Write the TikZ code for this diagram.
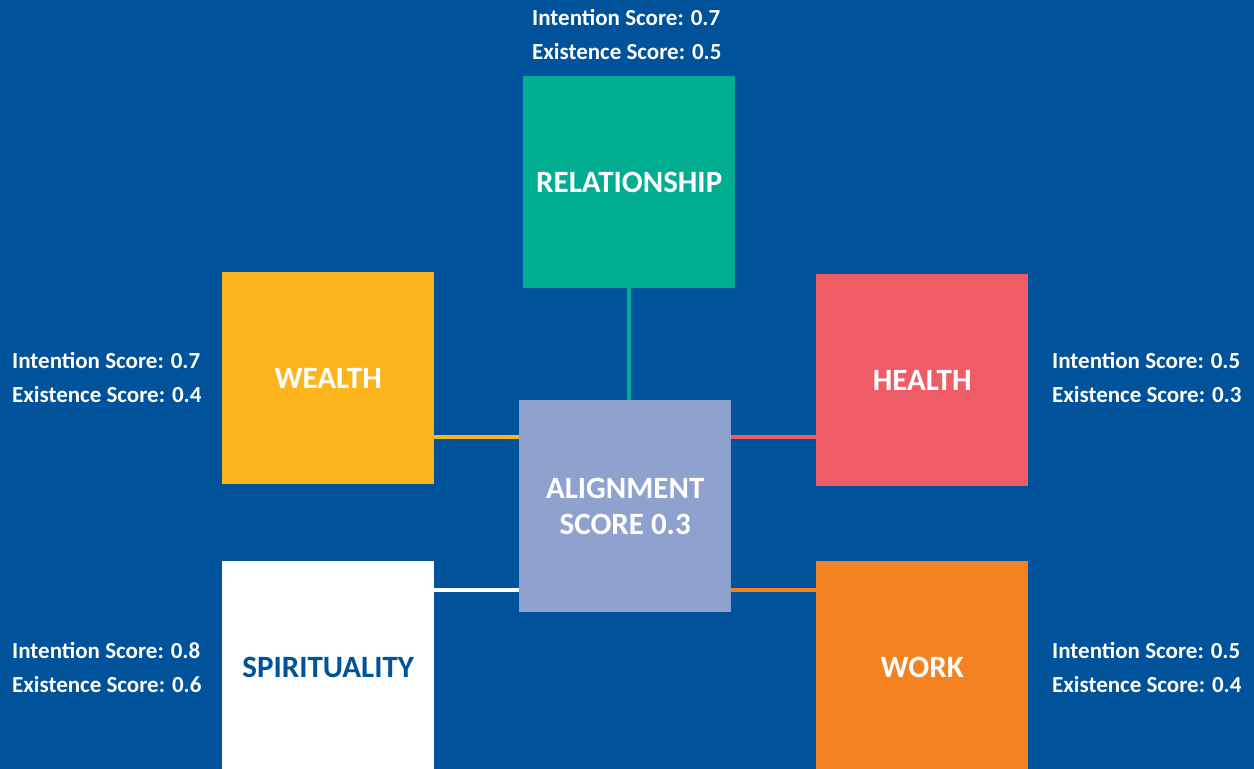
\documentclass[tikz,border=0pt]{standalone}
\usepackage{fontspec}
\setmainfont{Carlito}
\definecolor{bgblue}{RGB}{0,82,155}
\definecolor{teal1}{RGB}{0,173,145}
\definecolor{yell1}{RGB}{253,181,30}
\definecolor{red1}{RGB}{240,92,102}
\definecolor{orange1}{RGB}{245,130,32}
\definecolor{lav1}{RGB}{142,161,207}
\begin{document}
\begin{tikzpicture}[x=1pt,y=-1pt,
  box/.style={rectangle,inner sep=0pt,minimum width=212pt,minimum height=212pt,anchor=north west,
    font=\fontsize{31}{36}\selectfont\bfseries,text=white,align=center},
  score/.style={anchor=base west,inner sep=0pt,font=\fontsize{23}{27}\selectfont\bfseries,text=white},
  conn/.style={line width=3.5pt}]
\fill[bgblue] (0,0) rectangle (1254,769);
\useasboundingbox (0,0) rectangle (1254,769);
% boxes
\node[box,fill=teal1] (rel) at (523,76) {RELATIONSHIP};
\node[box,fill=yell1] (wealth) at (222,272) {WEALTH};
\node[box,fill=red1] (health) at (816,274) {HEALTH};
\node[box,fill=lav1] (align) at (519,400) {ALIGNMENT\\SCORE 0.3};
\node[box,fill=white,text=bgblue] (spirit) at (222,561) {SPIRITUALITY};
\node[box,fill=orange1] (work) at (816,561) {WORK};
% connectors
\draw[conn,teal1] (rel.south) -- (rel.south |- align.north);
\path ([yshift=-37pt]align.north west) coordinate (cwl);
\path ([yshift=-37pt]align.north east) coordinate (cwr);
\path ([yshift=-190pt]align.north west) coordinate (csl);
\path ([yshift=-190pt]align.north east) coordinate (csr);
\draw[conn,yell1] (cwl) -- (cwl -| wealth.east);
\draw[conn,red1] (cwr) -- (cwr -| health.west);
\draw[conn,white] (csl) -- (csl -| spirit.east);
\draw[conn,orange1] (csr) -- (csr -| work.west);
% scores
\node[score] (srel1) at (532,25) {Intention Score: 0.7};
\node[score] (srel2) at (532,59) {Existence Score: 0.5};
\node[score] (swea1) at (12,368) {Intention Score: 0.7};
\node[score] (swea2) at (12,402) {Existence Score: 0.4};
\node[score] (shea1) at (1052,368) {Intention Score: 0.5};
\node[score] (shea2) at (1052,402) {Existence Score: 0.3};
\node[score] (sspi1) at (12,658) {Intention Score: 0.8};
\node[score] (sspi2) at (12,692) {Existence Score: 0.6};
\node[score] (swor1) at (1052,658) {Intention Score: 0.5};
\node[score] (swor2) at (1052,692) {Existence Score: 0.4};
\end{tikzpicture}
\end{document}
